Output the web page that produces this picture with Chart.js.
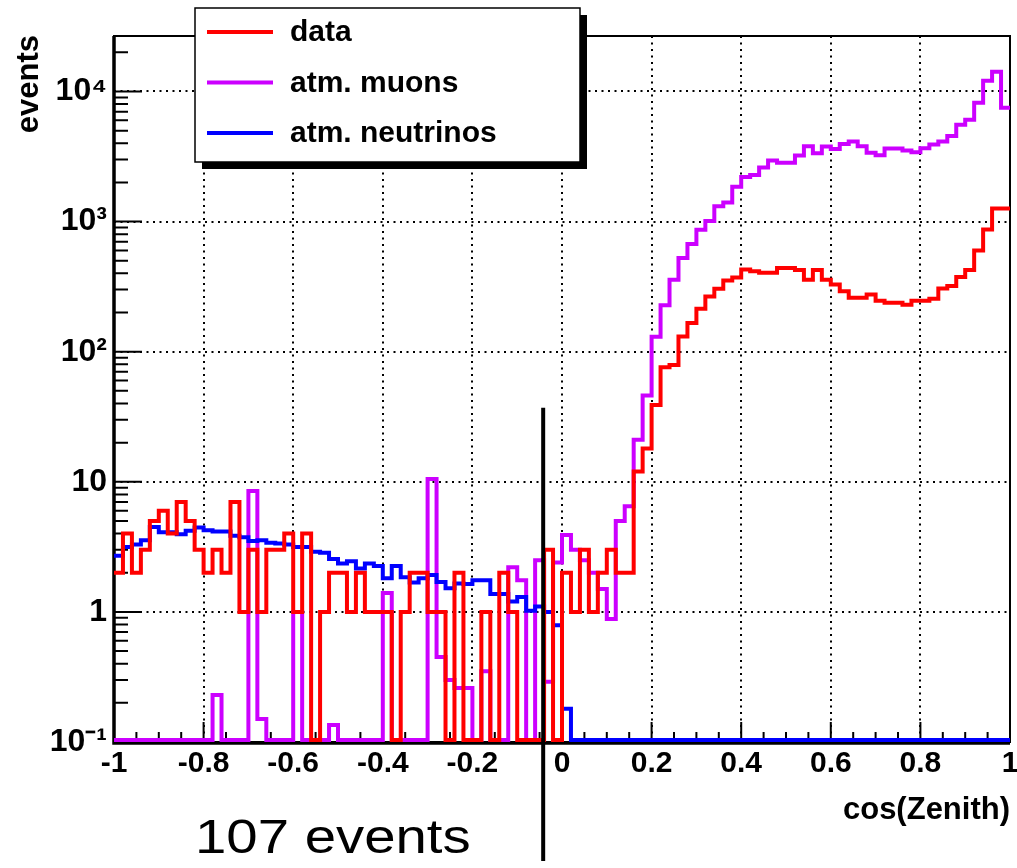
<!DOCTYPE html>
<html>
<head>
<meta charset="utf-8">
<script src="https://cdn.jsdelivr.net/npm/chart.js@4.4.1/dist/chart.umd.min.js"></script>
<style>
  html, body { margin: 0; padding: 0; background: #fff; }
  canvas { display: block; }
</style>
</head>
<body>
<canvas id="graficoZenith" width="1017" height="868"></canvas>
<script>
// 100 bins de ancho 0.02 entre cos(Zenith) = -1 y 1
const binLow = -1;
const binWidth = 0.02;

// datos (rojo), cuentas por bin
const datos = [
  2, 4, 2, 3, 5, 6, 4, 7, 5, 3,
  2, 3, 2, 7, 1, 3, 1, 3, 3, 4,
  1, 4, 0, 1, 2, 2, 1, 2, 1, 1,
  1, 0, 1, 2, 2, 1, 1, 0, 2, 0,
  0, 1, 0, 2, 1, 0, 0, 0, 3, 0,
  2, 1, 3, 1, 2, 3, 2, 2, 12, 18,
  39, 76, 79, 131, 166, 214, 266, 305, 352, 372,
  428, 415, 405, 405, 440, 440, 425, 358, 425, 358,
  328, 292, 260, 260, 275, 246, 238, 238, 230, 246,
  246, 255, 306, 320, 375, 425, 600, 870, 1260, 1260
];

// muones atmosfericos (violeta)
const muones = [
  0, 0, 0, 0, 0, 0, 0, 0, 0, 0,
  0, 0.23, 0, 0, 0, 8.5, 0.15, 0, 0, 0,
  1.0, 0, 0, 0, 0.135, 0, 0, 0, 0, 0,
  1.4, 0, 0, 0, 0, 10.5, 0.45, 0.3, 0.26, 0.26,
  0, 0.35, 0, 0, 2.2, 1.75, 0, 2.5, 0.29, 2.4,
  3.9, 3.0, 2.5, 2.0, 1.5, 0.88, 5.0, 6.5, 21, 46,
  130, 228, 357, 525, 672, 867, 1010, 1310, 1400, 1850,
  2200, 2280, 2600, 2950, 2830, 2830, 3220, 3800, 3350, 3780,
  3620, 3950, 4130, 3800, 3380, 3230, 3640, 3640, 3520, 3410,
  3660, 3920, 4130, 4550, 5550, 6070, 8200, 12100, 14200, 7500
];

// neutrinos atmosfericos (azul)
const neutrinos = [
  2.7, 3.15, 3.3, 3.55, 4.5, 4.1, 4.1, 3.95, 4.2, 4.45,
  4.25, 4.15, 4.15, 3.85, 3.75, 3.5, 3.55, 3.4, 3.35, 3.3,
  3.15, 3.15, 2.9, 2.85, 2.55, 2.35, 2.45, 2.16, 2.36, 2.25,
  1.81, 2.25, 1.85, 1.68, 1.81, 1.92, 1.7, 1.52, 1.65, 1.64,
  1.75, 1.75, 1.37, 1.37, 1.2, 1.3, 1.02, 1.1, 1.0, 0.79,
  0.18, 0, 0, 0, 0, 0, 0, 0, 0, 0,
  0, 0, 0, 0, 0, 0, 0, 0, 0, 0,
  0, 0, 0, 0, 0, 0, 0, 0, 0, 0,
  0, 0, 0, 0, 0, 0, 0, 0, 0, 0,
  0, 0, 0, 0, 0, 0, 0, 0, 0, 0
];

const etiquetas = ['data', 'atm. muons', 'atm. neutrinos'];
const colores = ['#ff0000', '#cc00ff', '#0000ff'];

const yMin = 0.1;
const yMax = 2.67e4;
const yTickValues = [0.1, 1, 10, 100, 1000, 10000];
const yTickLabels = ['10⁻¹', '1', '10', '10²', '10³', '10⁴'];
// los bins vacios se dibujan justo encima del borde inferior (escala log)
const ySuelo = 0.1035;

// linea de corte y anotacion
const corteX = -0.042;
const corteArriba = 37;
const textoCorte = '107 events';

const puntos = (vals) => {
  const pts = vals.map((v, i) => ({ x: binLow + i * binWidth, y: v > 0 ? v : ySuelo }));
  pts.push({ x: binLow + vals.length * binWidth, y: pts[pts.length - 1].y });
  return pts;
};

const familia = '"Liberation Sans", Arial, Helvetica, sans-serif';

function textoEstirado(ctx, txt, x, y, escala) {
  ctx.save();
  ctx.translate(x, y);
  ctx.scale(escala, 1);
  ctx.fillText(txt, 0, 0);
  ctx.restore();
}

const decoracion = {
  id: 'decoracion',
  beforeDraw(chart) {
    const ctx = chart.ctx;
    ctx.save();
    ctx.fillStyle = '#fff';
    ctx.fillRect(0, 0, chart.width, chart.height);
    ctx.restore();
  },
  beforeDatasetsDraw(chart) {
    const { ctx, chartArea: a, scales: { x, y } } = chart;
    ctx.save();
    ctx.strokeStyle = '#000';
    ctx.lineWidth = 2;
    ctx.beginPath();
    // marcas interiores eje x
    for (let k = 0; k <= 40; k++) {
      const px = x.getPixelForValue(-1 + k * 0.05);
      const len = k % 4 === 0 ? 20 : 10;
      ctx.moveTo(px, a.bottom);
      ctx.lineTo(px, a.bottom - len);
    }
    // marcas interiores eje y
    for (let e = -1; e <= 4; e++) {
      for (let m = 1; m <= 9; m++) {
        const v = m * Math.pow(10, e);
        if (v > yMax) break;
        const py = y.getPixelForValue(v);
        ctx.moveTo(a.left, py);
        ctx.lineTo(a.left + (m === 1 ? 28 : 14), py);
      }
    }
    ctx.stroke();
    // marco
    ctx.lineWidth = 2;
    ctx.strokeRect(a.left, a.top, a.right - a.left, a.bottom - a.top);
    ctx.lineWidth = 3.5;
    ctx.beginPath();
    ctx.moveTo(a.left, a.top);
    ctx.lineTo(a.left, a.bottom + 1);
    ctx.lineTo(a.right, a.bottom + 1);
    ctx.stroke();
    ctx.restore();
  },
  afterDraw(chart) {
    const { ctx, chartArea: a, scales: { x, y } } = chart;
    ctx.save();

    // linea de corte
    const cx = x.getPixelForValue(corteX);
    ctx.strokeStyle = '#000';
    ctx.lineWidth = 4;
    ctx.beginPath();
    ctx.moveTo(cx, y.getPixelForValue(corteArriba));
    ctx.lineTo(cx, 861);
    ctx.stroke();

    ctx.fillStyle = '#000';
    ctx.font = '49px ' + familia;
    ctx.textBaseline = 'alphabetic';
    ctx.textAlign = 'left';
    textoEstirado(ctx, textoCorte, 195, 853, 1.15);

    // titulos de ejes
    ctx.font = 'bold 31px ' + familia;
    ctx.textAlign = 'right';
    ctx.textBaseline = 'middle';
    ctx.fillText('cos(Zenith)', a.right, 810);
    ctx.save();
    ctx.translate(29, 35);
    ctx.rotate(-Math.PI / 2);
    ctx.fillText('events', 0, 0);
    ctx.restore();

    // leyenda
    const lx = 195, ly = 8, lw = 385, lh = 154;
    ctx.fillStyle = '#000';
    ctx.fillRect(lx + 7, ly + 7, lw, lh);
    ctx.fillStyle = '#fff';
    ctx.fillRect(lx, ly, lw, lh);
    ctx.strokeStyle = '#000';
    ctx.lineWidth = 1.5;
    ctx.strokeRect(lx, ly, lw, lh);
    ctx.font = 'bold 30px ' + familia;
    ctx.textAlign = 'left';
    ctx.textBaseline = 'middle';
    chart.data.datasets.forEach((ds, i) => {
      const yy = 32 + i * 50.5;
      ctx.strokeStyle = ds.borderColor;
      ctx.lineWidth = 4;
      ctx.beginPath();
      ctx.moveTo(207, yy);
      ctx.lineTo(273, yy);
      ctx.stroke();
      ctx.fillStyle = '#000';
      ctx.fillText(ds.label, 290, yy + 1);
    });
    ctx.restore();
  }
};

new Chart(document.getElementById('graficoZenith').getContext('2d'), {
  type: 'line',
  data: {
    datasets: [
      { label: etiquetas[0], data: puntos(datos), borderColor: colores[0], order: 0 },
      { label: etiquetas[1], data: puntos(muones), borderColor: colores[1], order: 2 },
      { label: etiquetas[2], data: puntos(neutrinos), borderColor: colores[2], order: 1 }
    ]
  },
  options: {
    responsive: false,
    animation: false,
    layout: { padding: { left: 0, right: 7, top: 36, bottom: 0 } },
    elements: {
      point: { radius: 0 },
      line: { borderWidth: 4, tension: 0, stepped: 'before', fill: false }
    },
    plugins: {
      legend: { display: false },
      tooltip: { enabled: false }
    },
    scales: {
      x: {
        type: 'linear',
        min: -1,
        max: 1,
        afterFit: (s) => { s.height = 126; s.paddingLeft = 0; s.paddingRight = 0; },
        ticks: {
          stepSize: 0.2,
          autoSkip: false,
          maxRotation: 0,
          padding: 4,
          color: '#000',
          font: { family: familia, weight: 'bold', size: 30 },
          callback: (v) => Math.abs(v) < 1e-9 ? '0' : String(+v.toFixed(1))
        },
        grid: { color: '#000', lineWidth: 2, drawTicks: false },
        border: { display: false, dash: [2, 4.5] }
      },
      y: {
        type: 'logarithmic',
        min: yMin,
        max: yMax,
        afterFit: (s) => { s.width = 114; s.paddingTop = 0; s.paddingBottom = 0; },
        afterBuildTicks: (s) => { s.ticks = yTickValues.map(v => ({ value: v })); },
        ticks: {
          autoSkip: false,
          padding: 7,
          color: '#000',
          font: { family: familia, weight: 'bold', size: 32 },
          callback: (v, i) => yTickLabels[i]
        },
        grid: { color: '#000', lineWidth: 2, drawTicks: false },
        border: { display: false, dash: [2, 4.5] }
      }
    }
  },
  plugins: [decoracion]
});
</script>
</body>
</html>
